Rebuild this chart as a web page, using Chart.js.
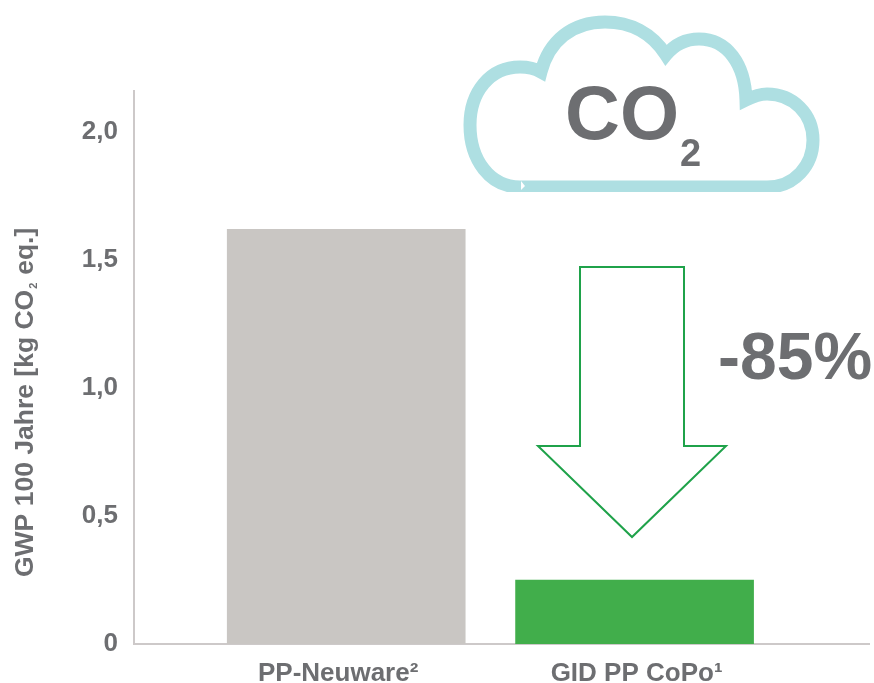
<!DOCTYPE html>
<html>
<head>
<meta charset="utf-8">
<style>
html,body{margin:0;padding:0;background:#fff;}
canvas{display:block;}
</style>
<script src="https://cdn.jsdelivr.net/npm/chart.js@4"></script>
</head>
<body>
<canvas id="chart" width="874" height="683"></canvas>
<script>
// chart data
const categories = ["PP-Neuware²", "GID PP CoPo¹"];
const gwpValues = [1.62, 0.25];
const barColors = ["#c9c6c3", "#41ae4b"];
const yTicks = [0, 0.5, 1, 1.5, 2];
const yLabels = ["0", "0,5", "1,0", "1,5", "2,0"];

const textColor = "#6d6e71";
const fontName = "'Liberation Sans', Arial, sans-serif";

function font(size){ return "bold "+size+"px "+fontName; }

// -----------------------------
// cloud, arrow and the free texts on top of the chart
const extras = {
id:"extras",
afterDraw(chart){
let c = chart.ctx;
c.save();

// cloud, cut flat at the bottom like the original
c.save();
c.beginPath();
c.rect(450,0,424,192);
c.clip();
c.strokeStyle="#aedfe2";
c.lineWidth=13;
c.lineJoin="miter";
c.beginPath();
c.moveTo(520,187);
c.lineTo(767,187);
c.bezierCurveTo(795,187,813,165,813,140);
c.bezierCurveTo(813,114,793,94,767,94);
c.bezierCurveTo(760,94,754,96,746,100);
c.bezierCurveTo(745,64,727,39,699,39);
c.bezierCurveTo(686,39,675,44,666,55);
c.bezierCurveTo(652,33,630,22,605,22);
c.bezierCurveTo(572,22,549,41,541,72);
c.bezierCurveTo(534,68,527,67,520,67);
c.bezierCurveTo(490,67,470,92,470,125);
c.bezierCurveTo(470,160,490,187,520,187);
c.closePath();
c.stroke();
c.restore();

// small notch in the cloud outline
c.fillStyle="#ffffff";
c.beginPath();
c.moveTo(521,181);
c.lineTo(525,186);
c.lineTo(521,190);
c.closePath();
c.fill();

// arrow
c.strokeStyle="#1fa24a";
c.lineWidth=2;
c.lineJoin="miter";
c.beginPath();
c.moveTo(580,267);
c.lineTo(684,267);
c.lineTo(684,446);
c.lineTo(726,446);
c.lineTo(632,537);
c.lineTo(538,446);
c.lineTo(580,446);
c.closePath();
c.stroke();

// texts
c.fillStyle=textColor;
c.textAlign="left";
c.textBaseline="alphabetic";
c.font=font(76);
c.fillText("CO",565,139);
c.font=font(38);
c.fillText("2",680,166);
c.font=font(66);
c.fillText("-85%",718,379);

// y axis title, the small subscript needs its own run
c.translate(33,577);
c.rotate(-Math.PI/2);
c.font=font(26.5);
let a="GWP 100 Jahre [kg CO";
c.fillText(a,0,0);
let w=c.measureText(a).width;
c.font=font(11);
c.fillText("2",w+1,4);
c.font=font(26.5);
c.fillText("eq.]",w+15,0);

c.restore();
}
};

// -----------------------------
new Chart(document.getElementById("chart"),{
type:"bar",
data:{
datasets:[{
data:gwpValues.map((v,i)=>({x:i+1,y:v})),
backgroundColor:barColors,
barThickness:238,
borderWidth:0
}]
},
options:{
responsive:false,
animation:false,
layout:{padding:{left:0,right:5,top:91,bottom:0}},
plugins:{legend:{display:false},tooltip:{enabled:false}},
scales:{
x:{
type:"linear",
offset:false,
min:0.264,
max:2.813,
grid:{display:false,drawTicks:false},
border:{color:"#cdc9c9",width:2},
afterBuildTicks(axis){ axis.ticks=[{value:0.972},{value:2.007}]; },
afterFit(axis){ axis.height=39; },
ticks:{
autoSkip:false,
maxRotation:0,
padding:14,
color:textColor,
font:{family:fontName,size:26,weight:"bold"},
callback:(v,i)=>categories[i]
}
},
y:{
min:0,
max:2.16,
grid:{display:false,drawTicks:false},
border:{color:"#cdc9c9",width:2},
afterBuildTicks(axis){ axis.ticks=yTicks.map(v=>({value:v})); },
afterFit(axis){ axis.width=134; },
ticks:{
padding:16,
color:textColor,
font:{family:fontName,size:26,weight:"bold"},
callback:(v,i)=>yLabels[i]
}
}
}
},
plugins:[extras]
});
</script>
</body>
</html>
